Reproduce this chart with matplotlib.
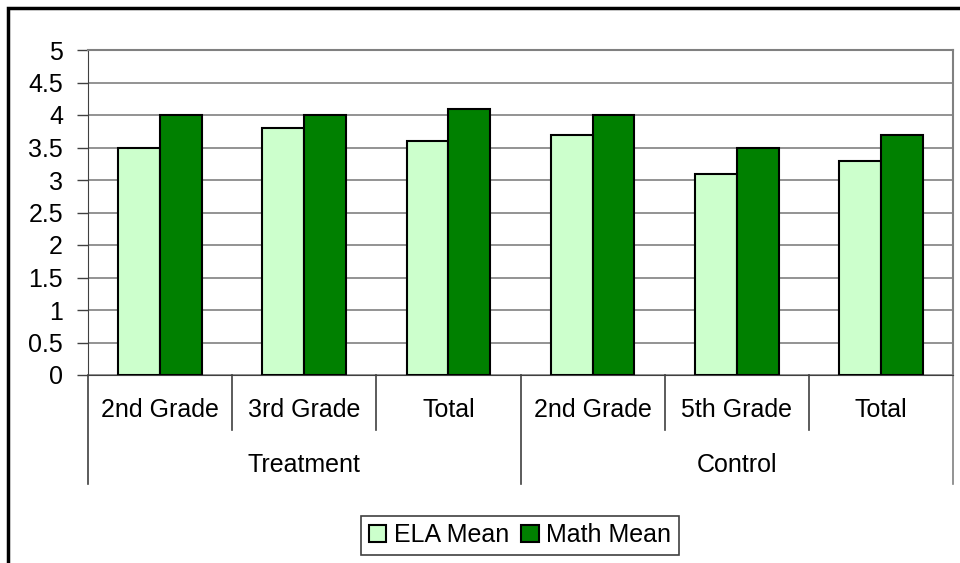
import numpy as np
import matplotlib.pyplot as plt
import matplotlib.transforms as mtrans
from matplotlib.lines import Line2D
from matplotlib.patches import Rectangle

# data
groups = ["Treatment", "Control"]
subcats = ["2nd Grade", "3rd Grade", "Total", "2nd Grade", "5th Grade", "Total"]
ela_mean = [3.5, 3.8, 3.6, 3.7, 3.1, 3.3]
math_mean = [4.0, 4.0, 4.1, 4.0, 3.5, 3.7]

W, H = 960, 563
plt.rcParams['font.family'] = ['Liberation Sans', 'DejaVu Sans']
fig = plt.figure(figsize=(W / 100, H / 100), dpi=100)
FS = 18

def fx(px):
    return px / W

def fy(py):
    return 1 - py / H

left, right, top, bottom = 88, 953, 50, 375
ax = fig.add_axes([fx(left), fy(bottom), fx(right - left), fy(top) - fy(bottom)])

x = np.arange(len(subcats))
bw = 0.29
ax.bar(x - bw / 2, ela_mean, bw, color='#CCFFCC', edgecolor='black', linewidth=1.5,
       label='ELA Mean', zorder=3)
ax.bar(x + bw / 2, math_mean, bw, color='#008000', edgecolor='black', linewidth=1.5,
       label='Math Mean', zorder=3)

ax.set_xlim(-0.5, len(subcats) - 0.5)
ax.set_ylim(0, 5)
yt = np.arange(0, 5.01, 0.5)
ax.set_yticks(yt)
ax.set_yticklabels([f"{v:g}" for v in yt], fontsize=FS)
ax.yaxis.grid(True, color='#808080', linewidth=1.2, zorder=0)
ax.tick_params(axis='y', length=8, width=1, color='#404040', pad=10)
ax.set_xticks([])

for s in ['top', 'right']:
    ax.spines[s].set_color('#808080')
    ax.spines[s].set_linewidth(1.5)
ax.spines['bottom'].set_color('#404040')
ax.spines['left'].set_color('#404040')

# category labels under the axis
trans = mtrans.blended_transform_factory(ax.transData, fig.transFigure)
for i, name in enumerate(subcats):
    ax.text(i, fy(410), name, transform=trans, fontsize=FS, ha='center', va='center')
for g, name in enumerate(groups):
    ax.text(g * 3 + 1, fy(465), name, transform=trans, fontsize=FS, ha='center', va='center')

# divider lines
for b in np.arange(-0.5, len(subcats), 1.0):
    end = 484 if b in (-0.5, 2.5, 5.5) else 430
    col = '#808080' if b == 5.5 else '#404040'
    ax.add_line(Line2D([b, b], [fy(bottom), fy(end)], transform=trans, color=col,
                       linewidth=1.2, clip_on=False))

# outer frame
fig.patches.append(Rectangle((fx(8), fy(580)), 1.2, fy(8) - fy(580), transform=fig.transFigure,
                             fill=False, edgecolor='black', linewidth=2.5, clip_on=False))

leg = fig.legend(loc='center', bbox_to_anchor=(fx(520), fy(535)), ncol=2, fontsize=FS,
                 handlelength=0.7, handleheight=0.7, handletextpad=0.3, columnspacing=0.5,
                 borderpad=0.3, fancybox=False, framealpha=1)
leg.get_frame().set_edgecolor('#404040')
leg.get_frame().set_linewidth(1.2)

fig.savefig('out.png', dpi=100)
